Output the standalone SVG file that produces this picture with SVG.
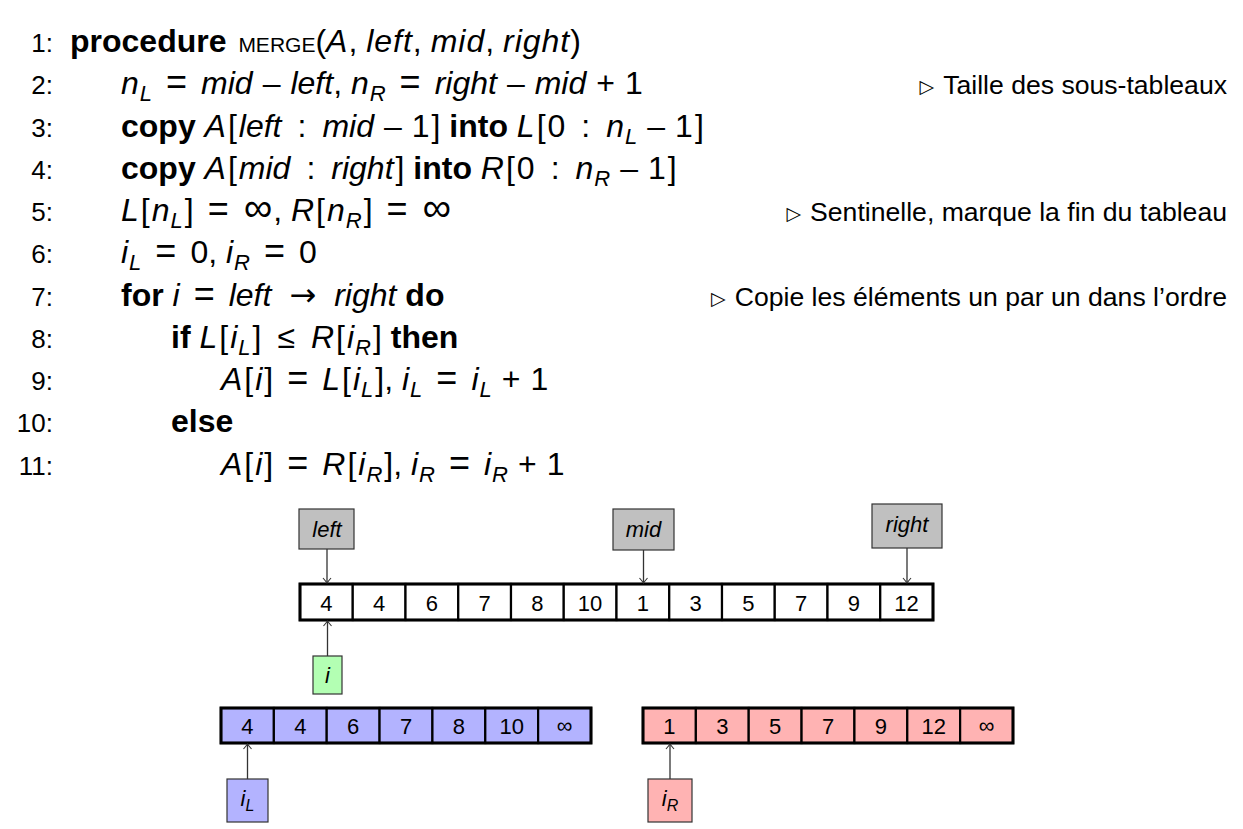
<svg xmlns="http://www.w3.org/2000/svg" width="1243" height="829" viewBox="0 0 1243 829">
<style>
text{font-family:"Liberation Sans",Arial,sans-serif;fill:#000}
.m{font-size:32px}
.n{font-size:26px;text-anchor:end}
.c{font-size:26.6px;text-anchor:end}
.i{font-style:italic}
.il{font-style:italic;letter-spacing:1px}
.b{font-weight:bold}
.s{font-size:22px;font-style:italic}
.sc{font-size:21px}
.eq{font-size:36px}
.inf{font-size:40px}
.arr{font-family:"DejaVu Sans",sans-serif;font-size:32px}
.tri{font-family:"DejaVu Sans",sans-serif;font-size:19px}
.cell{stroke:#000;stroke-width:2.2}
.outer{fill:none;stroke:#000;stroke-width:3}
.lbl{stroke:#333;stroke-width:1.2}
.v{font-size:22px;text-anchor:middle}
.vi{font-size:22px;text-anchor:middle;font-style:italic}
.conn line{stroke:#333;stroke-width:1.3;marker-end:url(#ah)}
</style>
<defs>
<marker id="ah" viewBox="-6 -5 8 10" markerWidth="8" markerHeight="10" refX="0" refY="0" orient="auto" markerUnits="userSpaceOnUse">
<path d="M-5,-4 Q-1.5,-1 0,0 Q-1.5,1 -5,4" fill="none" stroke="#333" stroke-width="1.1"/>
</marker>
</defs>
<rect width="1243" height="829" fill="#fff"/>
<g id="algorithm">
<text class="n" x="53" y="52">1:</text>
<text class="n" x="53" y="94">2:</text>
<text class="n" x="53" y="137">3:</text>
<text class="n" x="53" y="179">4:</text>
<text class="n" x="53" y="221">5:</text>
<text class="n" x="53" y="263">6:</text>
<text class="n" x="53" y="306">7:</text>
<text class="n" x="53" y="348">8:</text>
<text class="n" x="53" y="390">9:</text>
<text class="n" x="53" y="432">10:</text>
<text class="n" x="53" y="475">11:</text>
<text class="m" x="70" y="52"><tspan class="b">procedure</tspan> <tspan class="sc" dx="3">MERGE</tspan>(<tspan class="il">A</tspan>, <tspan class="il">left</tspan>, <tspan class="il">mid</tspan>, <tspan class="il">right</tspan>)</text>
<text class="m" x="121" y="94"><tspan class="i">n</tspan><tspan class="s" dy="7" dx="1">L</tspan><tspan class="eq" dy="-7" dx="14">=</tspan><tspan class="i" dx="14">mid</tspan><tspan dx="10">–</tspan><tspan class="i" dx="10">left</tspan>, <tspan class="i">n</tspan><tspan class="s" dy="7" dx="1">R</tspan><tspan class="eq" dy="-7" dx="14">=</tspan><tspan class="i" dx="14">right</tspan><tspan dx="10">–</tspan><tspan class="i" dx="10">mid</tspan><tspan dx="10">+</tspan><tspan dx="10">1</tspan></text>
<text class="m" x="121" y="137"><tspan class="b">copy</tspan> <tspan class="i">A</tspan><tspan dx="2">[</tspan><tspan class="i" dx="2">left</tspan><tspan dx="16">:</tspan><tspan class="i" dx="16">mid</tspan><tspan dx="10">–</tspan><tspan dx="10">1</tspan><tspan dx="2">]</tspan> <tspan class="b">into</tspan> <tspan class="i">L</tspan><tspan dx="2">[</tspan><tspan dx="2">0</tspan><tspan dx="16">:</tspan><tspan class="i" dx="16">n</tspan><tspan class="s" dy="7" dx="1">L</tspan><tspan dy="-7" dx="10">–</tspan><tspan dx="10">1</tspan><tspan dx="2">]</tspan></text>
<text class="m" x="121" y="179"><tspan class="b">copy</tspan> <tspan class="i">A</tspan><tspan dx="2">[</tspan><tspan class="i" dx="2">mid</tspan><tspan dx="16">:</tspan><tspan class="i" dx="16">right</tspan><tspan dx="2">]</tspan> <tspan class="b">into</tspan> <tspan class="i">R</tspan><tspan dx="2">[</tspan><tspan dx="2">0</tspan><tspan dx="16">:</tspan><tspan class="i" dx="16">n</tspan><tspan class="s" dy="7" dx="1">R</tspan><tspan dy="-7" dx="10">–</tspan><tspan dx="10">1</tspan><tspan dx="2">]</tspan></text>
<text class="m" x="121" y="221"><tspan class="i">L</tspan><tspan dx="2">[</tspan><tspan class="i" dx="2">n</tspan><tspan class="s" dy="7" dx="1">L</tspan><tspan dy="-7" dx="2">]</tspan><tspan class="eq" dx="14">=</tspan><tspan class="inf" dx="15">∞</tspan><tspan dx="1">, </tspan><tspan class="i">R</tspan><tspan dx="2">[</tspan><tspan class="i" dx="2">n</tspan><tspan class="s" dy="7" dx="1">R</tspan><tspan dy="-7" dx="2">]</tspan><tspan class="eq" dx="14">=</tspan><tspan class="inf" dx="15">∞</tspan></text>
<text class="m" x="121" y="263"><tspan class="i">i</tspan><tspan class="s" dy="7" dx="1">L</tspan><tspan class="eq" dy="-7" dx="14">=</tspan><tspan dx="14">0</tspan>, <tspan class="i">i</tspan><tspan class="s" dy="7" dx="1">R</tspan><tspan class="eq" dy="-7" dx="14">=</tspan><tspan dx="14">0</tspan></text>
<text class="m" x="121" y="306"><tspan class="b">for</tspan> <tspan class="i">i</tspan><tspan class="eq" dx="14">=</tspan><tspan class="i" dx="14">left</tspan><tspan class="arr" dx="18">→</tspan><tspan class="i" dx="18">right</tspan> <tspan class="b">do</tspan></text>
<text class="m" x="171" y="348"><tspan class="b">if</tspan> <tspan class="i">L</tspan><tspan dx="2">[</tspan><tspan class="i" dx="2">i</tspan><tspan class="s" dy="7" dx="1">L</tspan><tspan dy="-7" dx="2">]</tspan><tspan dx="16">≤</tspan><tspan class="i" dx="16">R</tspan><tspan dx="2">[</tspan><tspan class="i" dx="2">i</tspan><tspan class="s" dy="7" dx="1">R</tspan><tspan dy="-7" dx="2">]</tspan> <tspan class="b">then</tspan></text>
<text class="m" x="221" y="390"><tspan class="i">A</tspan><tspan dx="2">[</tspan><tspan class="i" dx="2">i</tspan><tspan dx="2">]</tspan><tspan class="eq" dx="14">=</tspan><tspan class="i" dx="14">L</tspan><tspan dx="2">[</tspan><tspan class="i" dx="2">i</tspan><tspan class="s" dy="7" dx="1">L</tspan><tspan dy="-7" dx="2">]</tspan>, <tspan class="i">i</tspan><tspan class="s" dy="7" dx="1">L</tspan><tspan class="eq" dy="-7" dx="14">=</tspan><tspan class="i" dx="14">i</tspan><tspan class="s" dy="7" dx="1">L</tspan><tspan dy="-7" dx="10">+</tspan><tspan dx="10">1</tspan></text>
<text class="m" x="171" y="432"><tspan class="b">else</tspan></text>
<text class="m" x="221" y="475"><tspan class="i">A</tspan><tspan dx="2">[</tspan><tspan class="i" dx="2">i</tspan><tspan dx="2">]</tspan><tspan class="eq" dx="14">=</tspan><tspan class="i" dx="14">R</tspan><tspan dx="2">[</tspan><tspan class="i" dx="2">i</tspan><tspan class="s" dy="7" dx="1">R</tspan><tspan dy="-7" dx="2">]</tspan>, <tspan class="i">i</tspan><tspan class="s" dy="7" dx="1">R</tspan><tspan class="eq" dy="-7" dx="14">=</tspan><tspan class="i" dx="14">i</tspan><tspan class="s" dy="7" dx="1">R</tspan><tspan dy="-7" dx="10">+</tspan><tspan dx="10">1</tspan></text>
<text class="c" x="1227" y="94"><tspan class="tri" dy="-1">▷</tspan><tspan dx="9" dy="1">Taille des sous-tableaux</tspan></text>
<text class="c" x="1227" y="221"><tspan class="tri" dy="-1">▷</tspan><tspan dx="9" dy="1">Sentinelle, marque la fin du tableau</tspan></text>
<text class="c" x="1227" y="306"><tspan class="tri" dy="-1">▷</tspan><tspan dx="9" dy="1">Copie les éléments un par un dans l’ordre</tspan></text>
</g>
<g id="array-A">
<rect class="cell" x="300" y="584" width="52.75" height="36" fill="#fff"/>
<rect class="cell" x="352.75" y="584" width="52.75" height="36" fill="#fff"/>
<rect class="cell" x="405.5" y="584" width="52.75" height="36" fill="#fff"/>
<rect class="cell" x="458.25" y="584" width="52.75" height="36" fill="#fff"/>
<rect class="cell" x="511" y="584" width="52.75" height="36" fill="#fff"/>
<rect class="cell" x="563.75" y="584" width="52.75" height="36" fill="#fff"/>
<rect class="cell" x="616.5" y="584" width="52.75" height="36" fill="#fff"/>
<rect class="cell" x="669.25" y="584" width="52.75" height="36" fill="#fff"/>
<rect class="cell" x="722" y="584" width="52.75" height="36" fill="#fff"/>
<rect class="cell" x="774.75" y="584" width="52.75" height="36" fill="#fff"/>
<rect class="cell" x="827.5" y="584" width="52.75" height="36" fill="#fff"/>
<rect class="cell" x="880.25" y="584" width="52.75" height="36" fill="#fff"/>
<rect class="outer" x="300" y="584" width="633" height="36"/>
<text class="v" x="326.4" y="611">4</text>
<text class="v" x="379.1" y="611">4</text>
<text class="v" x="431.9" y="611">6</text>
<text class="v" x="484.6" y="611">7</text>
<text class="v" x="537.4" y="611">8</text>
<text class="v" x="590.1" y="611">10</text>
<text class="v" x="642.9" y="611">1</text>
<text class="v" x="695.6" y="611">3</text>
<text class="v" x="748.4" y="611">5</text>
<text class="v" x="801.1" y="611">7</text>
<text class="v" x="853.9" y="611">9</text>
<text class="v" x="906.6" y="611">12</text>
</g>
<g id="array-L">
<rect class="cell" x="221" y="708" width="52.86" height="35" fill="#b3b3ff"/>
<rect class="cell" x="273.86" y="708" width="52.86" height="35" fill="#b3b3ff"/>
<rect class="cell" x="326.71" y="708" width="52.86" height="35" fill="#b3b3ff"/>
<rect class="cell" x="379.57" y="708" width="52.86" height="35" fill="#b3b3ff"/>
<rect class="cell" x="432.43" y="708" width="52.86" height="35" fill="#b3b3ff"/>
<rect class="cell" x="485.29" y="708" width="52.86" height="35" fill="#b3b3ff"/>
<rect class="cell" x="538.14" y="708" width="52.86" height="35" fill="#b3b3ff"/>
<rect class="outer" x="221" y="708" width="370" height="35"/>
<text class="v" x="247.4" y="734">4</text>
<text class="v" x="300.3" y="734">4</text>
<text class="v" x="353.1" y="734">6</text>
<text class="v" x="406" y="734">7</text>
<text class="v" x="458.9" y="734">8</text>
<text class="v" x="511.7" y="734">10</text>
<text class="v" x="564.6" y="733" font-size="27">∞</text>
</g>
<g id="array-R">
<rect class="cell" x="643" y="708" width="52.86" height="35" fill="#ffb3b3"/>
<rect class="cell" x="695.86" y="708" width="52.86" height="35" fill="#ffb3b3"/>
<rect class="cell" x="748.71" y="708" width="52.86" height="35" fill="#ffb3b3"/>
<rect class="cell" x="801.57" y="708" width="52.86" height="35" fill="#ffb3b3"/>
<rect class="cell" x="854.43" y="708" width="52.86" height="35" fill="#ffb3b3"/>
<rect class="cell" x="907.29" y="708" width="52.86" height="35" fill="#ffb3b3"/>
<rect class="cell" x="960.14" y="708" width="52.86" height="35" fill="#ffb3b3"/>
<rect class="outer" x="643" y="708" width="370" height="35"/>
<text class="v" x="669.4" y="734">1</text>
<text class="v" x="722.3" y="734">3</text>
<text class="v" x="775.1" y="734">5</text>
<text class="v" x="828" y="734">7</text>
<text class="v" x="880.9" y="734">9</text>
<text class="v" x="933.7" y="734">12</text>
<text class="v" x="986.6" y="733" font-size="27">∞</text>
</g>
<g id="node-left"><rect class="lbl" x="299" y="509" width="55" height="40" fill="#c0c0c0"/><text class="vi" x="327" y="537">left</text></g>
<g id="node-mid"><rect class="lbl" x="613" y="509" width="61" height="41" fill="#c0c0c0"/><text class="vi" x="643.5" y="537">mid</text></g>
<g id="node-right"><rect class="lbl" x="872" y="504" width="70" height="44" fill="#c0c0c0"/><text class="vi" x="907" y="532">right</text></g>
<g id="node-i"><rect class="lbl" x="313" y="656" width="29" height="38" fill="#b3ffb3"/><text class="vi" x="327.5" y="683">i</text></g>
<g id="node-iL"><rect class="lbl" x="227" y="779" width="41" height="43" fill="#b3b3ff"/><text class="vi" x="247.5" y="806">i<tspan font-size="16" dy="5">L</tspan></text></g>
<g id="node-iR"><rect class="lbl" x="648" y="779" width="44" height="43" fill="#ffb3b3"/><text class="vi" x="670" y="806">i<tspan font-size="16" dy="5">R</tspan></text></g>
<g id="connectors" class="conn">
<line x1="327" y1="549" x2="327" y2="583"/>
<line x1="643.5" y1="550" x2="643.5" y2="583"/>
<line x1="907" y1="548" x2="907" y2="583"/>
<line x1="327.5" y1="656" x2="327.5" y2="621"/>
<line x1="247.5" y1="779" x2="247.5" y2="744"/>
<line x1="670" y1="779" x2="670" y2="744"/>
</g>
</svg>
